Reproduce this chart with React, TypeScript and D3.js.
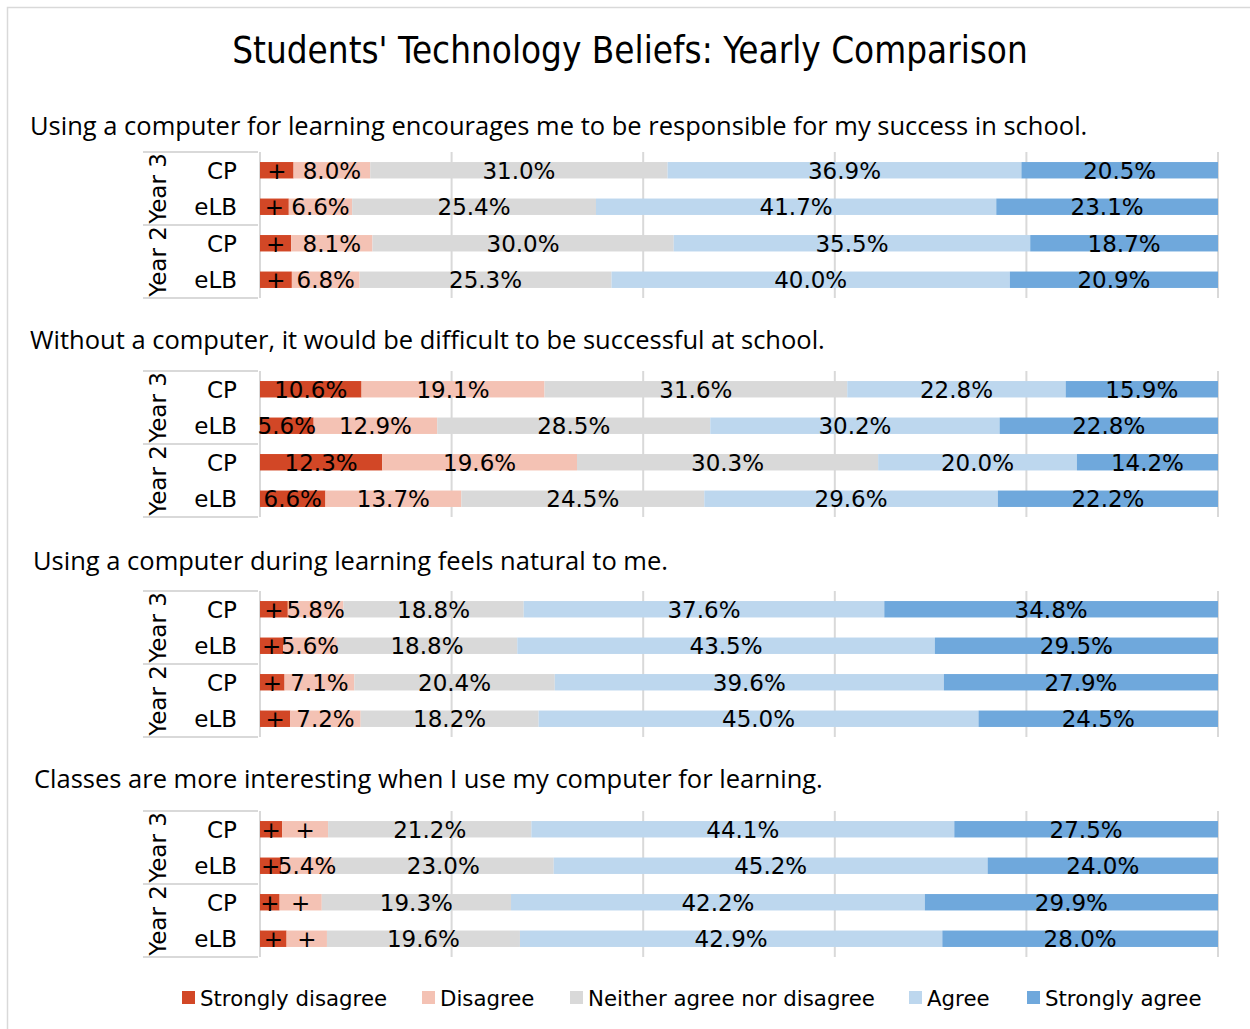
import React from "react";
import * as d3 from "d3";

const categories = ["Strongly disagree", "Disagree", "Neither agree nor disagree", "Agree", "Strongly agree"];
const colors = ["#D24726", "#F4C2B4", "#D9D9D9", "#BDD7EE", "#6FA8DC"];
const questions = [
  "Using a computer for learning encourages me to be responsible for my success in school.",
  "Without a computer, it would be difficult to be successful at school.",
  "Using a computer during learning feels natural to me.",
  "Classes are more interesting when I use my computer for learning.",
];
const years = ["Year 3", "Year 2"];
const groups = ["CP", "eLB"];
// rows: Y3 CP, Y3 eLB, Y2 CP, Y2 eLB; columns: SD, D, N, A, SA
const q1 = [
  [3.5, 8.0, 31.0, 36.9, 20.5],
  [3.0, 6.6, 25.4, 41.7, 23.1],
  [3.1, 8.1, 30.0, 35.5, 18.7],
  [3.2, 6.8, 25.3, 40.0, 20.9],
];
const q2 = [
  [10.6, 19.1, 31.6, 22.8, 15.9],
  [5.6, 12.9, 28.5, 30.2, 22.8],
  [12.3, 19.6, 30.3, 20.0, 14.2],
  [6.6, 13.7, 24.5, 29.6, 22.2],
];
const q3 = [
  [2.9, 5.8, 18.8, 37.6, 34.8],
  [2.4, 5.6, 18.8, 43.5, 29.5],
  [2.5, 7.1, 20.4, 39.6, 27.9],
  [3.1, 7.2, 18.2, 45.0, 24.5],
];
const q4 = [
  [2.3, 4.8, 21.2, 44.1, 27.5],
  [2.2, 5.4, 23.0, 45.2, 24.0],
  [2.0, 4.3, 19.3, 42.2, 29.9],
  [2.7, 4.1, 19.6, 42.9, 28.0],
];
const panelData = [q1, q2, q3, q4];
const gridTicks = [0, 0.2, 0.4, 0.6, 0.8, 1];

const FONT = "'Open Sans', 'Noto Sans', sans-serif";
const TFONT = "'DejaVu Sans', sans-serif";

export default function App() {
  const W = 1250, H = 1029;
  const x = d3.scaleLinear().domain([0, 1]).range([260, 1218]);
  const panelTops = [152, 371, 591, 811];
  const questionY = [135, 349, 570, 788];
  const questionX = [30, 30, 33, 34];
  const panelH = 146;
  const keys = categories.map((_, i) => String(i));

  return (
    <svg width={W} height={H} style={{ position: "absolute", left: 0, top: 0, background: "#fff" }}>
      <rect x={7.5} y={7.5} width={1260} height={1040} fill="#fff" stroke="#D9D9D9" strokeWidth={1.5} />
      <text x={630} y={63} textAnchor="middle" fontFamily={TFONT} fontSize={36.5} fill="#000"
        style={{ fontStretch: "condensed" }}>Students' Technology Beliefs: Yearly Comparison</text>
      {panelData.map((pd, pi) => {
        const top = panelTops[pi];
        const y = d3.scaleBand<number>().domain([0, 1, 2, 3]).range([top, top + panelH]).paddingInner(0.55).paddingOuter(0.275);
        const rows = pd.map((r) => {
          const o: any = {};
          r.forEach((v, i) => (o[String(i)] = v));
          return o;
        });
        const stacked = d3.stack<any>().keys(keys).offset(d3.stackOffsetExpand)(rows);
        const bandStep = panelH / 4;
        return (
          <g key={pi}>
            <text x={questionX[pi]} y={questionY[pi]} fontFamily={FONT} fontSize={25.5} fill="#000">{questions[pi]}</text>
            {gridTicks.map((t, ti) => (
              <line key={ti} x1={x(t)} x2={x(t)} y1={top} y2={top + panelH} stroke="#D9D9D9" strokeWidth={2} />
            ))}
            <line x1={143} x2={258} y1={top} y2={top} stroke="#D9D9D9" strokeWidth={2} />
            <line x1={143} x2={258} y1={top + panelH / 2} y2={top + panelH / 2} stroke="#D9D9D9" strokeWidth={2} />
            <line x1={143} x2={258} y1={top + panelH} y2={top + panelH} stroke="#D9D9D9" strokeWidth={2} />
            {stacked.map((s, si) =>
              s.map((d, ri) => {
                const x0 = x(d[0]), x1 = x(d[1]);
                const yy = y(ri)!;
                return <rect key={si + "-" + ri} x={x0} y={yy} width={x1 - x0} height={y.bandwidth()} fill={colors[si]} />;
              })
            )}
            {stacked.map((s, si) =>
              s.map((d, ri) => {
                const x0 = x(d[0]), x1 = x(d[1]);
                const v = pd[ri][si];
                const label = v < 5 ? "+" : v.toFixed(1) + "%";
                return (
                  <text key={"l" + si + "-" + ri} x={(x0 + x1) / 2} y={y(ri)! + y.bandwidth() / 2} dy="0.36em"
                    textAnchor="middle" fontFamily={TFONT} fontSize={23} fill="#000">{label}</text>
                );
              })
            )}
            {[0, 1, 2, 3].map((ri) => (
              <text key={"c" + ri} x={237} y={top + bandStep * (ri + 0.5)} dy="0.36em" textAnchor="end"
                fontFamily={TFONT} fontSize={23} fill="#000">{groups[ri % 2]}</text>
            ))}
            {years.map((yr, yi) => (
              <text key={"y" + yi} transform={`translate(${158},${top + panelH / 4 + yi * panelH / 2}) rotate(-90)`}
                dy="0.36em" textAnchor="middle" fontFamily={TFONT} fontSize={23} fill="#000">{yr}</text>
            ))}
          </g>
        );
      })}
      {categories.map((c, i) => {
        const lx = [182, 422, 570, 909, 1027][i];
        return (
          <g key={c}>
            <rect x={lx} y={991} width={13} height={13} fill={colors[i]} />
            <text x={lx + 18} y={998} dy="0.36em" fontFamily={TFONT} fontSize={21.3} fill="#000">{c}</text>
          </g>
        );
      })}
    </svg>
  );
}
